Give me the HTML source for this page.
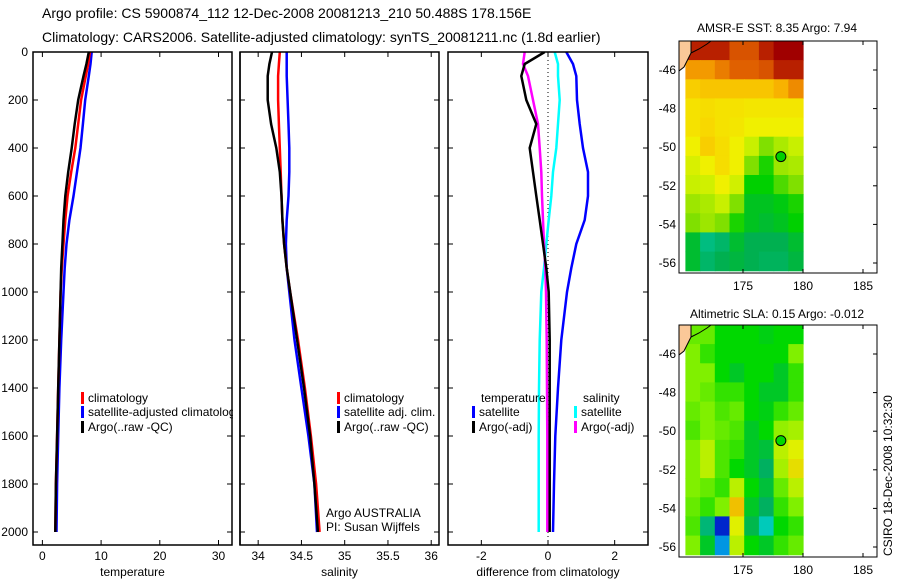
<!DOCTYPE html>
<html><head><meta charset="utf-8"><style>
html,body{margin:0;padding:0;background:#fff;}
svg{display:block;font-family:"Liberation Sans",sans-serif;}
</style></head><body>
<svg id="c" width="900" height="580" viewBox="0 0 900 580" xmlns="http://www.w3.org/2000/svg">
<text x="42" y="18" font-size="14">Argo profile: CS 5900874_112 12-Dec-2008 20081213_210 50.488S 178.156E</text>
<text x="42" y="42" font-size="14">Climatology: CARS2006. Satellite-adjusted climatology: synTS_20081211.nc (1.8d earlier)</text>
<text x="777" y="32" font-size="12" text-anchor="middle">AMSR-E SST: 8.35 Argo: 7.94</text>
<text x="777" y="318" font-size="12" text-anchor="middle">Altimetric SLA: 0.15 Argo: -0.012</text>
<text transform="translate(892,556) rotate(-90)" font-size="12">CSIRO 18-Dec-2008 10:32:30</text>
<g id="g"></g>
</svg>
<script>
const depths=[0,50,100,200,300,400,500,600,700,800,900,1000,1200,1400,1600,1800,2000];
const tempArgo=[7.9,7.5,7.0,6.1,5.5,5.0,4.4,3.9,3.6,3.4,3.2,3.1,2.9,2.7,2.5,2.3,2.2];
const tempClim=[8.1,7.8,7.4,6.6,6.1,5.6,4.9,4.3,3.9,3.6,3.3,3.1,2.9,2.7,2.5,2.3,2.2];
const tempSat=[8.4,8.2,7.9,7.3,6.9,6.5,5.9,5.3,4.6,4.1,3.8,3.6,3.2,2.9,2.7,2.5,2.4];
const salArgo=[34.16,34.13,34.11,34.11,34.15,34.21,34.25,34.27,34.28,34.30,34.33,34.37,34.45,34.53,34.60,34.65,34.69];
const salClim=[34.25,34.24,34.23,34.23,34.24,34.25,34.26,34.27,34.28,34.30,34.33,34.37,34.46,34.54,34.61,34.67,34.71];
const salSat=[34.33,34.33,34.33,34.34,34.35,34.36,34.36,34.35,34.33,34.32,34.33,34.36,34.42,34.50,34.58,34.65,34.68];
const dTArgo=[-0.1,-0.7,-0.8,-0.65,-0.35,-0.55,-0.45,-0.35,-0.25,-0.15,-0.05,0.02,0.05,0.05,0.05,0.05,0.05];
const dSArgo=[-0.7,-0.75,-0.6,-0.45,-0.3,-0.25,-0.2,-0.18,-0.15,-0.12,-0.08,-0.06,-0.04,-0.03,-0.02,-0.02,-0.02];
const dSSat=[0.2,0.3,0.3,0.35,0.3,0.25,0.15,0.1,0.02,-0.05,-0.12,-0.2,-0.25,-0.27,-0.28,-0.28,-0.28];
const dTSat=[0.55,0.75,0.85,0.87,0.95,1.05,1.2,1.2,1.1,0.85,0.7,0.57,0.4,0.3,0.22,0.18,0.15];
const depthTicks=[0,200,400,600,800,1000,1200,1400,1600,1800,2000];
const tempTicks=[0,10,20,30];
const salTicks=[34,34.5,35,35.5,36];
const diffTicks=[-2,0,2];
const latTicks=[-46,-48,-50,-52,-54,-56];
const lonTicks=[175,180,185];
const sstGrid=[
[-1,5,5,4.6,4.6,5,5.5,5.5],
[4.1,4.1,4.3,4.5,4.5,4.6,5,5],
[3.6,3.7,3.7,3.7,3.7,3.7,3.9,4.2],
[3.3,3.4,3.3,3.3,3.2,3.2,3.2,3.2],
[3.3,3.5,3.3,3.2,3,3,3,3],
[3,3.6,3.4,3,2.5,2,2.3,2.5],
[2.7,3,3.4,3,2,1.6,2.2,2.3],
[2.5,2.6,3,2.6,1.5,1.5,1.8,2],
[2.2,2.3,2.5,2,1.3,1.3,1.4,1.6],
[2,2.2,2,1.6,1.3,1.2,1.3,1.5],
[1.2,0.6,0.8,1.2,1,1,1,1.2],
[1.2,0.8,1,1.1,1,0.9,0.9,1.1]];
const slaGrid=[
[-1,2.4,2,2,2,1.9,2,2],
[2.5,2.2,2,2,2,2,2,2.5],
[2.5,2.5,2,1.8,2,2,1.8,2.2],
[2.5,2.4,2.2,2.2,2,1.8,1.8,2.2],
[2.4,2.5,2.3,2.4,2,1.9,2.2,2.4],
[2.3,2.5,2.4,2.3,1.8,2,2.6,2.7],
[2.5,2.8,2.3,2.2,1.8,1.7,2.8,3],
[2.5,2.8,2.3,2,1.8,1.5,2.7,3.2],
[2.5,2.4,2.2,2.8,2,1.7,2.4,2.8],
[2.4,2.2,2.5,3.5,1.8,1.5,2.2,2.5],
[2.3,1.4,0.3,3,1.6,1.1,2,2.2],
[2.5,1.8,0.8,2.8,2,1.8,2.2,2.4]];
const argoLon=178.156, argoLat=-50.488;

const NS='http://www.w3.org/2000/svg';
const G=document.getElementById('g');
function mk(tag,attrs,parent){const e=document.createElementNS(NS,tag);for(const k in attrs)e.setAttribute(k,attrs[k]);(parent||G).appendChild(e);return e;}

const yTop=52, yPerM=480/2000, yBot=545;
const yD=d=>yTop+d*yPerM;
const panels=[
 {l:33,r:232,min:-1.6,max:32.3,ticks:tempTicks,label:'temperature',name:'temperature-panel'},
 {l:240,r:439,min:33.79,max:36.09,ticks:salTicks,label:'salinity',name:'salinity-panel'},
 {l:448,r:648,min:-3,max:3,ticks:diffTicks,label:'difference from climatology',name:'difference-panel'}];
panels.forEach((p,i)=>{
 p.x=v=>p.l+(v-p.min)/(p.max-p.min)*(p.r-p.l);
 const g=mk('g',{});
 
 
 p.g=g;
 const cp=mk('clipPath',{id:'cp'+i},g);mk('rect',{x:p.l,y:yTop,width:p.r-p.l,height:yBot-yTop},cp);
 p.ticks.forEach(t=>{const x=p.x(t);
  mk('line',{x1:x,x2:x,y1:yBot,y2:yBot-5,stroke:'#000'},g);mk('line',{x1:x,x2:x,y1:yTop,y2:yTop+5,stroke:'#000'},g);
  const tx=mk('text',{x:x,y:yBot+15,'font-size':12,'text-anchor':'middle'},g);tx.textContent=t;
  
  });
 depthTicks.forEach(d=>{const y=yD(d);
  mk('line',{x1:p.l,x2:p.l+5,y1:y,y2:y,stroke:'#000'},g);mk('line',{x1:p.r,x2:p.r-5,y1:y,y2:y,stroke:'#000'},g);
  if(i===0){const tx=mk('text',{x:28,y:y+4,'font-size':12,'text-anchor':'end'},g);tx.textContent=d;
   
   }});
 const lb=mk('text',{x:(p.l+p.r)/2,y:yBot+31,'font-size':12,'text-anchor':'middle'},g);lb.textContent=p.label;
 
 
});
function line(p,vals,color,name,w){
 const pts=vals.map((v,k)=>p.x(v).toFixed(1)+','+yD(depths[k]).toFixed(1)).join(' ');
 const e=mk('polyline',{points:pts,fill:'none',stroke:color,'stroke-width':w||2.5,'clip-path':`url(#cp${panels.indexOf(p)})`},p.g);
 
 
}
line(panels[0],tempSat,'#00f','temp-satellite-line');
line(panels[0],tempClim,'#f00','temp-climatology-line');
line(panels[0],tempArgo,'#000','temp-argo-line');
line(panels[1],salSat,'#00f','sal-satellite-line');
line(panels[1],salClim,'#f00','sal-climatology-line');
line(panels[1],salArgo,'#000','sal-argo-line');
mk('line',{x1:panels[2].x(0),x2:panels[2].x(0),y1:yTop,y2:yBot,stroke:'#000','stroke-dasharray':'1,3'},panels[2].g);
line(panels[2],dTSat,'#00f','diff-temp-satellite-line');
line(panels[2],dSSat,'#0ff','diff-sal-satellite-line');
line(panels[2],dSArgo,'#f0f','diff-sal-argo-line');
line(panels[2],dTArgo,'#000','diff-temp-argo-line');

function legend(p,x,y,color,text,name){
 mk('rect',{x:x,y:y-10,width:3,height:12,fill:color},p.g);
 const t=mk('text',{x:x+7,y:y,'font-size':12},p.g);t.textContent=text;
 
 
}
legend(panels[0],81,402,'#f00','climatology','legend-climatology');
legend(panels[0],81,416,'#00f','satellite-adjusted climatolog','legend-satellite-adjusted');
legend(panels[0],81,431,'#000','Argo(..raw -QC)','legend-argo');
legend(panels[1],337,402,'#f00','climatology','legend-climatology');
legend(panels[1],337,416,'#00f','satellite adj. clim.','legend-satellite-adj');
legend(panels[1],337,431,'#000','Argo(..raw -QC)','legend-argo');
let t=mk('text',{x:326,y:517,'font-size':12},panels[1].g);t.textContent='Argo AUSTRALIA';

t=mk('text',{x:326,y:531,'font-size':12},panels[1].g);t.textContent='PI: Susan Wijffels';

t=mk('text',{x:481,y:402,'font-size':12},panels[2].g);t.textContent='temperature';

t=mk('text',{x:583,y:402,'font-size':12},panels[2].g);t.textContent='salinity';

legend(panels[2],472,416,'#00f','satellite','legend-temp-satellite');
legend(panels[2],472,431,'#000','Argo(-adj)','legend-temp-argo');
legend(panels[2],574,416,'#0ff','satellite','legend-sal-satellite');
legend(panels[2],574,431,'#f0f','Argo(-adj)','legend-sal-argo');
panels.forEach(p=>mk('rect',{x:p.l,y:yTop,width:p.r-p.l,height:yBot-yTop,fill:'none',stroke:'#000','stroke-width':1.5},p.g));
mk('rect',{x:233,y:395,width:6,height:40,fill:'#fff'},panels[0].g);
mk('line',{x1:240,x2:240,y1:yTop,y2:yBot,stroke:'#000','stroke-width':1.5},panels[0].g);

function interp(stops,v){
 if(v<=stops[0][0])return 'rgb('+stops[0][1].join(',')+')';
 for(let i=1;i<stops.length;i++){if(v<=stops[i][0]){const a=stops[i-1],b=stops[i],f=(v-a[0])/(b[0]-a[0]);
  return 'rgb('+[0,1,2].map(k=>Math.round(a[1][k]+f*(b[1][k]-a[1][k]))).join(',')+')';}}
 return 'rgb('+stops[stops.length-1][1].join(',')+')';
}
function fix(st){return st.map(s=>[s[0],s[1].match(/\w\w/g).map(h=>parseInt(h,16))]);}
const sstStops=fix([['0','00d0c8'],['1','00b050'],['1.5','00d000'],['2','80e000'],['2.5','c8f000'],['3','f0f000'],['3.5','f8d800'],['4','f8a800'],['4.5','e06000'],['5','b82000'],['5.5','a00000']].map(s=>[+s[0],s[1]]));
const slaStops=fix([['0','000080'],['0.5','0040ff'],['1','00d0d0'],['1.5','00b060'],['2','00d800'],['2.5','80f000'],['3','e0f000'],['3.5','f0c000'],['4','f08000']].map(s=>[+s[0],s[1]]));
function map(name,top,bot,lat46y,grid,stops){
 const g=mk('g',{});
 
 
 const l=679,r=877,pxLon=12,pxLat=19.3;
 const X=lon=>743+(lon-175)*pxLon, Y=lat=>lat46y+(-46-lat)*pxLat;
 const lat0=-46-(top-lat46y)/pxLat, lat1=-56.4, lon0=170.2, lon1=180;
 const nr=grid.length,nc=grid[0].length,dl=(lat0-lat1)/nr,dn=(lon1-lon0)/nc;
 grid.forEach((row,i)=>row.forEach((v,j)=>{
  const x0=X(lon0+j*dn),x1=X(lon0+(j+1)*dn),y0=Y(lat0-i*dl),y1=Y(lat0-(i+1)*dl);
  const c=mk('rect',{x:x0.toFixed(1),y:y0.toFixed(1),width:(x1-x0+0.6).toFixed(1),height:(y1-y0+0.6).toFixed(1),fill:interp(stops,v<0?row[1]:v)},g);
  
  
 }));
 mk('polygon',{points:`${l},${top} ${l+12},${top} ${l+12},${top+12} ${l+8},${top+20} ${l+5},${top+26} ${l},${top+30}`,fill:'#fac898'},g);
 mk('polyline',{points:`${l+12},${top} ${l+12},${top+12} ${l+8},${top+20} ${l+5},${top+26} ${l},${top+30}`,fill:'none',stroke:'#000'},g);
 mk('polyline',{points:`${l+12},${top+12} ${l+20},${top+8} ${l+28},${top+3} ${l+32},${top}`,fill:'none',stroke:'#000'},g);
 const pc=mk('circle',{cx:X(argoLon),cy:Y(argoLat),r:5,fill:interp(stops,name.startsWith('sst')?1.5:2),stroke:'#000'},g);
 
 
 mk('rect',{x:l,y:top,width:r-l,height:bot-top,fill:'none',stroke:'#000'},g);
 latTicks.forEach(la=>{const y=Y(la);if(y<top||y>bot)return;
  mk('line',{x1:r,x2:r-4,y1:y,y2:y,stroke:'#000'},g);
  const tx=mk('text',{x:676,y:y+4,'font-size':12,'text-anchor':'end'},g);tx.textContent=la;
  });
 lonTicks.forEach(lo=>{const x=X(lo);
  mk('line',{x1:x,x2:x,y1:bot,y2:bot-4,stroke:'#000'},g);mk('line',{x1:x,x2:x,y1:top,y2:top+4,stroke:'#000'},g);
  const tx=mk('text',{x:x,y:bot+17,'font-size':12,'text-anchor':'middle'},g);tx.textContent=lo;
  });
}
map('sst-map',41,273,70,sstGrid,sstStops);
map('sla-map',325,557,354,slaGrid,slaStops);
</script>
</body></html>
